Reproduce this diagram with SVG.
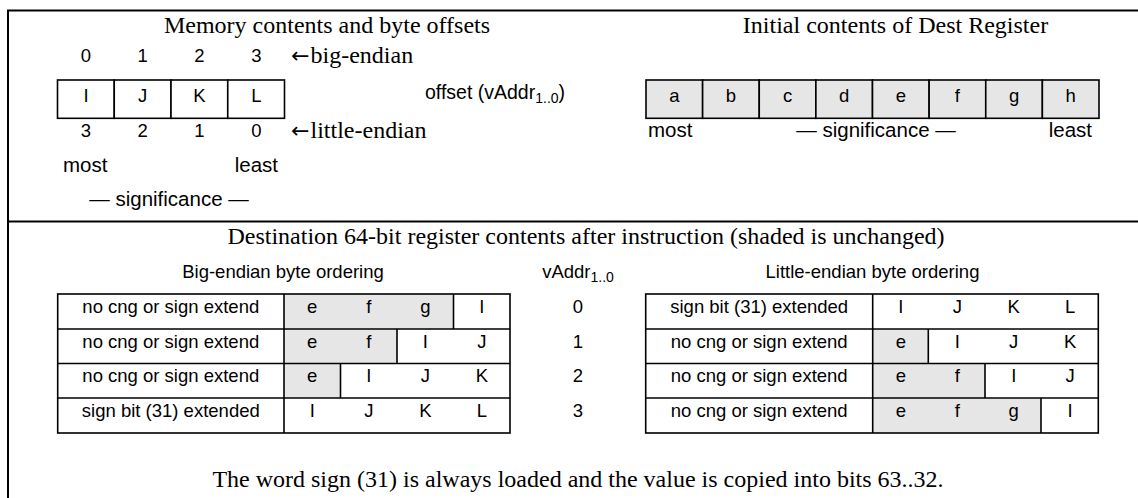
<svg xmlns="http://www.w3.org/2000/svg" width="1138" height="498" viewBox="0 0 1138 498">
<style>
.serif{font-family:"Liberation Serif","Times New Roman",serif;font-size:24px;fill:#000}
.arrow{font-family:"DejaVu Sans","Liberation Sans",sans-serif;font-size:22px;fill:#000}
.sans{font-family:"Liberation Sans",Arial,sans-serif;font-size:18.5px;fill:#000}
.sig{font-family:"Liberation Sans",Arial,sans-serif;font-size:20.5px;fill:#000}
.mid{text-anchor:middle}
.end{text-anchor:end}
.cell{fill:#fff;stroke:#000;stroke-width:1.6}
.shade{fill:#e6e6e6;stroke:none}
.gcell{fill:#e6e6e6;stroke:#000;stroke-width:1.6}
.ln{stroke:#000;stroke-width:1.6;fill:none}
.frame{stroke:#000;stroke-width:2;fill:none}
</style>
<rect x="0" y="0" width="1138" height="498" fill="#fff"/>
<g id="frame">
<path class="frame" d="M8,498 V10.5 H1138"/>
<line class="frame" x1="8" y1="221.5" x2="1138" y2="221.5"/>
</g>
<g id="connectors"></g>

<g id="memory">
<text class="serif mid" x="327" y="32.5">Memory contents and byte offsets</text>
<g class="sans mid">
<text x="86" y="62">0</text><text x="142.7" y="62">1</text><text x="199.5" y="62">2</text><text x="256.3" y="62">3</text>
</g>
<text class="arrow" x="291" y="63" textLength="18.5" lengthAdjust="spacingAndGlyphs">←</text>
<text class="serif" x="310.5" y="63">big-endian</text>
<rect class="cell" x="57.5" y="80" width="56.75" height="38.3"/>
<rect class="cell" x="114.25" y="80" width="56.75" height="38.3"/>
<rect class="cell" x="171" y="80" width="56.75" height="38.3"/>
<rect class="cell" x="227.75" y="80" width="56.75" height="38.3"/>
<g class="sans mid">
<text x="86" y="102">I</text><text x="142.7" y="102">J</text><text x="199.5" y="102">K</text><text x="256.3" y="102">L</text>
<text x="86" y="137">3</text><text x="142.7" y="137">2</text><text x="199.5" y="137">1</text><text x="256.3" y="137">0</text>
</g>
<text class="arrow" x="291" y="137.5" textLength="18.5" lengthAdjust="spacingAndGlyphs">←</text>
<text class="serif" x="310.5" y="137.5">little-endian</text>
<text class="sig" x="63" y="172">most</text>
<text class="sig end" x="278" y="172">least</text>
<text class="sig mid" x="169" y="205.5">— significance —</text>
</g>

<g id="offset-label">
<text class="sans" x="425" y="98.5" style="font-size:19.5px">offset (vAddr<tspan font-size="14" dy="4.5">1..0</tspan><tspan dy="-4.5">)</tspan></text>
</g>

<g id="dest-register">
<text class="serif mid" x="895.5" y="32.5">Initial contents of Dest Register</text>
<rect class="gcell" x="646" y="80" width="56.625" height="38.3"/>
<rect class="gcell" x="702.625" y="80" width="56.625" height="38.3"/>
<rect class="gcell" x="759.25" y="80" width="56.625" height="38.3"/>
<rect class="gcell" x="815.875" y="80" width="56.625" height="38.3"/>
<rect class="gcell" x="872.5" y="80" width="56.625" height="38.3"/>
<rect class="gcell" x="929.125" y="80" width="56.625" height="38.3"/>
<rect class="gcell" x="985.75" y="80" width="56.625" height="38.3"/>
<rect class="gcell" x="1042.375" y="80" width="56.625" height="38.3"/>
<g class="sans mid">
<text x="674.3" y="102">a</text><text x="730.9" y="102">b</text><text x="787.6" y="102">c</text><text x="844.2" y="102">d</text>
<text x="900.8" y="102">e</text><text x="957.4" y="102">f</text><text x="1014.1" y="102">g</text><text x="1070.7" y="102">h</text>
</g>
<text class="sig" x="648" y="137">most</text>
<text class="sig mid" x="876" y="137">— significance —</text>
<text class="sig end" x="1092" y="137">least</text>
</g>

<g id="result-header">
<text class="serif mid" x="586" y="244">Destination 64-bit register contents after instruction (shaded is unchanged)</text>
<text class="sans mid" x="283" y="277.5">Big-endian byte ordering</text>
<text class="sans mid" x="578" y="277.5">vAddr<tspan font-size="14" dy="4.5">1..0</tspan></text>
<text class="sans mid" x="872.5" y="277.5">Little-endian byte ordering</text>
</g>

<g id="big-endian-table">
<rect class="shade" x="284" y="294" width="169.5" height="35"/>
<rect class="shade" x="284" y="329" width="113" height="34.5"/>
<rect class="shade" x="284" y="363.5" width="56.5" height="34.5"/>
<rect class="ln" x="57.7" y="294" width="452.3" height="139"/>
<line class="ln" x1="284" y1="294" x2="284" y2="433"/>
<line class="ln" x1="57.7" y1="329" x2="510" y2="329"/>
<line class="ln" x1="57.7" y1="363.5" x2="510" y2="363.5"/>
<line class="ln" x1="57.7" y1="398" x2="510" y2="398"/>
<line class="ln" x1="453.5" y1="294" x2="453.5" y2="329"/>
<line class="ln" x1="397" y1="329" x2="397" y2="363.5"/>
<line class="ln" x1="340.5" y1="363.5" x2="340.5" y2="398"/>
<g class="sans mid">
<text x="170.8" y="313">no cng or sign extend</text>
<text x="170.8" y="348">no cng or sign extend</text>
<text x="170.8" y="382">no cng or sign extend</text>
<text x="170.8" y="416.5">sign bit (31) extended</text>
<text x="312.2" y="313">e</text><text x="368.8" y="313">f</text><text x="425.3" y="313">g</text><text x="481.8" y="313">I</text>
<text x="312.2" y="348">e</text><text x="368.8" y="348">f</text><text x="425.3" y="348">I</text><text x="481.8" y="348">J</text>
<text x="312.2" y="382">e</text><text x="368.8" y="382">I</text><text x="425.3" y="382">J</text><text x="481.8" y="382">K</text>
<text x="312.2" y="416.5">I</text><text x="368.8" y="416.5">J</text><text x="425.3" y="416.5">K</text><text x="481.8" y="416.5">L</text>
</g>
</g>

<g id="vaddr-column" class="sans mid">
<text x="578" y="313">0</text>
<text x="578" y="348">1</text>
<text x="578" y="382">2</text>
<text x="578" y="416.5">3</text>
</g>

<g id="little-endian-table">
<rect class="shade" x="872.7" y="329" width="55.6" height="34.5"/>
<rect class="shade" x="872.7" y="363.5" width="112.3" height="34.5"/>
<rect class="shade" x="872.7" y="398" width="168.3" height="35"/>
<rect class="ln" x="645.7" y="294" width="452.6" height="139"/>
<line class="ln" x1="872.7" y1="294" x2="872.7" y2="433"/>
<line class="ln" x1="645.7" y1="329" x2="1098.3" y2="329"/>
<line class="ln" x1="645.7" y1="363.5" x2="1098.3" y2="363.5"/>
<line class="ln" x1="645.7" y1="398" x2="1098.3" y2="398"/>
<line class="ln" x1="928.3" y1="329" x2="928.3" y2="363.5"/>
<line class="ln" x1="985" y1="363.5" x2="985" y2="398"/>
<line class="ln" x1="1041" y1="398" x2="1041" y2="433"/>
<g class="sans mid">
<text x="759.2" y="313">sign bit (31) extended</text>
<text x="759.2" y="348">no cng or sign extend</text>
<text x="759.2" y="382">no cng or sign extend</text>
<text x="759.2" y="416.5">no cng or sign extend</text>
<text x="900.9" y="313">I</text><text x="957.3" y="313">J</text><text x="1013.7" y="313">K</text><text x="1070.1" y="313">L</text>
<text x="900.9" y="348">e</text><text x="957.3" y="348">I</text><text x="1013.7" y="348">J</text><text x="1070.1" y="348">K</text>
<text x="900.9" y="382">e</text><text x="957.3" y="382">f</text><text x="1013.7" y="382">I</text><text x="1070.1" y="382">J</text>
<text x="900.9" y="416.5">e</text><text x="957.3" y="416.5">f</text><text x="1013.7" y="416.5">g</text><text x="1070.1" y="416.5">I</text>
</g>
</g>

<g id="footnote">
<text class="serif mid" x="578" y="487">The word sign (31) is always loaded and the value is copied into bits 63..32.</text>
</g>
</svg>
